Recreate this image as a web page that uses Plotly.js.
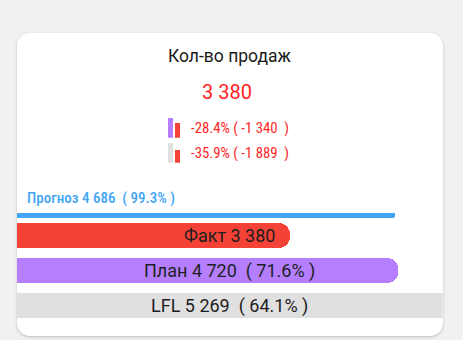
<!DOCTYPE html>
<html>
<head>
<meta charset="utf-8">
<script src="https://cdn.plot.ly/plotly-3.0.1.min.js"></script>
<style>
  html, body { margin: 0; padding: 0; background: #f1f1f1; width: 463px; height: 340px; overflow: hidden; }
  #card { position: absolute; left: 17px; top: 33px; width: 425.5px; height: 303px; background: #fff;
          border-radius: 13px; box-shadow: 0 1px 3px rgba(0,0,0,0.22); }
  #chart { position: absolute; left: 0; top: 0; width: 463px; height: 340px; }
</style>
</head>
<body>
<div id="card"></div>
<div id="chart"></div>
<script>
// ---- data ----
const chartTitle = 'Кол-во продаж';
const totalLabel = '3 380';
const categories = ['Прогноз', 'Факт', 'План', 'LFL'];
const values = [4686, 3380, 4720, 5269];
const barLabels = ['Прогноз 4 686  ( 99.3% )', 'Факт 3 380', 'План 4 720  ( 71.6% )', 'LFL 5 269  ( 64.1% )'];
const compCategories = ['base', 'fact'];
const compBase = [4720, 5269];
const compFact = [3380, 3380];
const compLabels = ['-28.4% ( -1 340  )', '-35.9% ( -1 889  )'];

// ---- styles ----
const W = 463, H = 340;
const colors = { 'Прогноз': '#42a5f5', 'Факт': '#f44336', 'План': '#b47eff', 'LFL': '#e0e0e0' };
const compColors = [['#b47eff', '#f44336'], ['#e0e0e0', '#f44336']];
const red = '#ff1f1f';
const FONT = 'Roboto, sans-serif';
const COND = '"Roboto Condensed", "Liberation Sans Narrow", Roboto, sans-serif';

const px = v => v / W;
const py = v => (H - v) / H;

const traces = [];
categories.forEach((c, i) => {
  const t = {
    type: 'bar', orientation: 'h', y: [c], x: [values[i]],
    marker: { color: colors[c], line: { width: 0 } },
    xaxis: 'x', yaxis: 'y', hoverinfo: 'skip', showlegend: false
  };
  if (c === 'Прогноз') {
    t.width = 5 / 35; t.offset = 0.351; t.marker.cornerradius = 3;
  } else {
    t.width = 25 / 35;
    if (c !== 'LFL') t.marker.cornerradius = 11;
  }
  traces.push(t);
});

compBase.forEach((b, r) => {
  traces.push({
    type: 'bar', x: compCategories, y: [b, compFact[r]], width: 0.68,
    marker: { color: compColors[r], line: { width: 0 } },
    xaxis: 'x' + (r + 2), yaxis: 'y' + (r + 2), hoverinfo: 'skip', showlegend: false
  });
});

const hidden = { visible: false, fixedrange: true };
const layout = {
  width: W, height: H,
  margin: { l: 0, r: 0, t: 0, b: 0 },
  paper_bgcolor: 'rgba(0,0,0,0)', plot_bgcolor: 'rgba(0,0,0,0)',
  barmode: 'overlay', bargap: 0,
  font: { family: FONT },
  xaxis: Object.assign({ domain: [px(17), px(442.5)], range: [0, Math.max(...values)] }, hidden),
  yaxis: Object.assign({ domain: [py(323), py(183)], type: 'category', categoryorder: 'array',
                         categoryarray: categories, range: [3.5, -0.5] }, hidden),
  xaxis2: Object.assign({ domain: [px(167), px(181.5)], type: 'category', range: [-0.5, 1.5] }, hidden),
  yaxis2: Object.assign({ domain: [py(137.7), py(117.7)], range: [0, compBase[0]] }, hidden),
  xaxis3: Object.assign({ domain: [px(167), px(181.5)], type: 'category', range: [-0.5, 1.5] }, hidden),
  yaxis3: Object.assign({ domain: [py(162.7), py(142.7)], range: [0, compBase[1]] }, hidden),
  annotations: [
    { text: chartTitle, xref: 'paper', yref: 'paper', x: px(229.5), y: py(56), xanchor: 'center', yanchor: 'middle',
      showarrow: false, font: { family: FONT, size: 17.5, color: '#1a1a1a' } },
    { text: totalLabel, xref: 'paper', yref: 'paper', x: px(226.5), y: py(91.5), xanchor: 'center', yanchor: 'middle',
      showarrow: false, font: { family: FONT, size: 20, color: red } },
    { text: compLabels[0], xref: 'paper', yref: 'paper', x: px(189), y: py(128), xanchor: 'left', yanchor: 'middle',
      showarrow: false, font: { family: COND, size: 14.8, color: red } },
    { text: compLabels[1], xref: 'paper', yref: 'paper', x: px(189), y: py(153), xanchor: 'left', yanchor: 'middle',
      showarrow: false, font: { family: COND, size: 14.8, color: red } },
    { text: barLabels[0], xref: 'x domain', yref: 'y', x: 0, y: categories[0], xshift: 8, yshift: 2.5,
      xanchor: 'left', yanchor: 'middle', showarrow: false,
      font: { family: COND, size: 15, color: '#42a5f5', weight: 500 } }
  ]
};
for (let i = 1; i < categories.length; i++) {
  layout.annotations.push({
    text: barLabels[i], xref: 'x domain', yref: 'y', x: 0.5, y: categories[i],
    xanchor: 'center', yanchor: 'middle', showarrow: false,
    font: { family: FONT, size: 18, color: '#1e1e1e' }
  });
}

Plotly.newPlot('chart', traces, layout, { staticPlot: true, displayModeBar: false });
</script>
</body>
</html>
